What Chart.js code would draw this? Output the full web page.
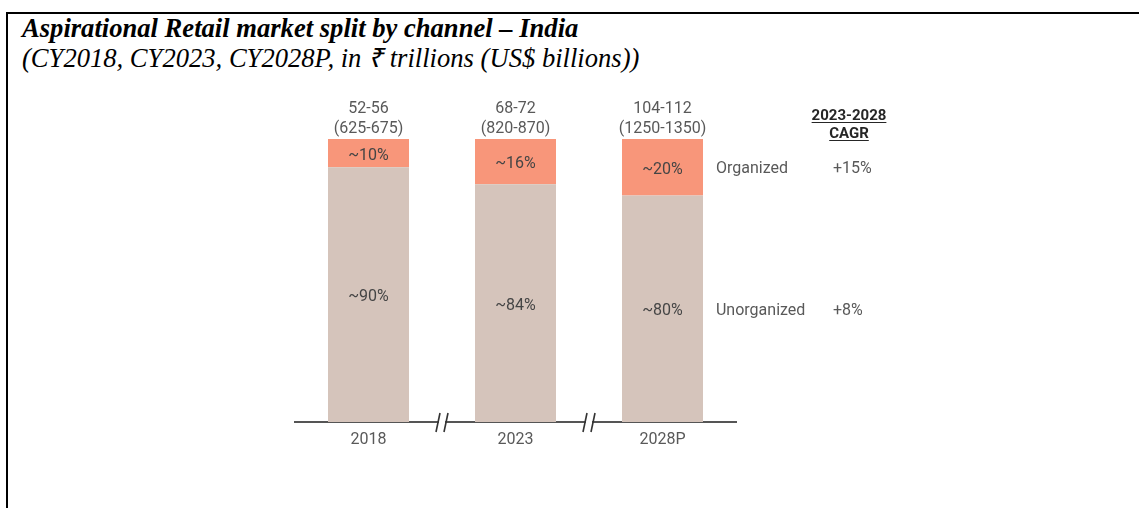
<!DOCTYPE html>
<html>
<head>
<meta charset="utf-8">
<script src="https://cdn.jsdelivr.net/npm/chart.js@4"></script>
<style>
html,body{margin:0;padding:0;width:1139px;height:508px;overflow:hidden;background:#fff;}
#frame{position:absolute;left:6px;top:12px;width:1200px;height:600px;border-top:2px solid #000;border-left:2px solid #000;}
.t{position:absolute;left:22px;font-family:"Liberation Serif","Times New Roman",serif;font-size:26.6px;line-height:29px;color:#000;white-space:nowrap;font-style:italic;}
#title{top:14px;font-weight:bold;}
#sub{top:44px;}
#wrap{position:absolute;left:0;top:0;width:1139px;height:508px;}
</style>
</head>
<body>
<div id="frame"></div>
<div class="t" id="title">Aspirational Retail market split by channel – India</div>
<div class="t" id="sub">(CY2018, CY2023, CY2028P, in ₹ trillions (US$ billions))</div>
<div id="wrap"><canvas id="c" width="1139" height="508"></canvas></div>
<script>
const categories = ['2018', '2023', '2028P'];
const unorganizedShare = [90, 84, 80];
const organizedShare = [10, 16, 20];
const unorganizedLabels = ['~90%', '~84%', '~80%'];
const organizedLabels = ['~10%', '~16%', '~20%'];
const totalInr = ['52-56', '68-72', '104-112'];
const totalUsd = ['(625-675)', '(820-870)', '(1250-1350)'];
const seriesNames = ['Unorganized', 'Organized'];
const cagrValues = ['+8%', '+15%'];
const cagrHeader = ['2023-2028', 'CAGR'];

const FONT = 'Roboto';
const GREY = '#595959';
const INNER = '#454545';

const annotations = {
  id: 'annotations',
  afterDatasetsDraw(chart) {
    const ctx = chart.ctx;
    const metas = [chart.getDatasetMeta(0), chart.getDatasetMeta(1)];
    const inner = [unorganizedLabels, organizedLabels];
    ctx.save();
    ctx.textAlign = 'center';
    ctx.textBaseline = 'alphabetic';
    ctx.font = '16px ' + FONT;
    // labels inside bars
    metas.forEach((meta, d) => {
      meta.data.forEach((el, i) => {
        ctx.fillStyle = INNER;
        ctx.fillText(inner[d][i], el.x, (el.y + el.base) / 2 + 6.5);
      });
    });
    // totals above bars
    metas[1].data.forEach((el, i) => {
      ctx.fillStyle = GREY;
      ctx.fillText(totalInr[i], el.x, el.y - 26);
      ctx.fillText(totalUsd[i], el.x, el.y - 6);
    });
    // series names and CAGR at right of last bar
    const last = categories.length - 1;
    metas.forEach((meta, d) => {
      const el = meta.data[last];
      const right = el.x + el.width / 2;
      const cy = (el.y + el.base) / 2 + 6;
      ctx.textAlign = 'left';
      ctx.fillStyle = GREY;
      ctx.fillText(seriesNames[d], right + 13, cy);
      ctx.fillText(cagrValues[d], right + 130, cy);
    });
    // CAGR header
    const elTop = metas[1].data[last];
    const hx = elTop.x + elTop.width / 2 + 146;
    ctx.textAlign = 'center';
    ctx.font = 'bold 15px ' + FONT;
    ctx.fillStyle = '#262626';
    ctx.strokeStyle = '#262626';
    ctx.lineWidth = 1.2;
    [elTop.y - 19, elTop.y - 1].forEach((y, k) => {
      ctx.fillText(cagrHeader[k], hx, y);
      const w = ctx.measureText(cagrHeader[k]).width;
      ctx.beginPath();
      ctx.moveTo(hx - w / 2, y + 2.5);
      ctx.lineTo(hx + w / 2, y + 2.5);
      ctx.stroke();
    });
    ctx.restore();
  },
  afterDraw(chart) {
    const ctx = chart.ctx;
    const xs = chart.scales.x;
    const y = xs.top;
    ctx.save();
    for (let i = 0; i < categories.length - 1; i++) {
      const x = (xs.getPixelForValue(i) + xs.getPixelForValue(i + 1)) / 2;
      ctx.fillStyle = '#fff';
      ctx.fillRect(x - 3, y - 2, 6, 4);
      ctx.strokeStyle = '#333';
      ctx.lineWidth = 1.6;
      [-4, 4].forEach(o => {
        ctx.beginPath();
        ctx.moveTo(x + o - 2, y + 10);
        ctx.lineTo(x + o + 2, y - 9);
        ctx.stroke();
      });
    }
    ctx.restore();
  }
};

new Chart(document.getElementById('c'), {
  type: 'bar',
  data: {
    labels: categories,
    datasets: [
      { label: seriesNames[0], data: unorganizedShare, backgroundColor: '#D5C4BB', borderWidth: 0 },
      { label: seriesNames[1], data: organizedShare, backgroundColor: '#F8967A', borderWidth: 0 }
    ]
  },
  options: {
    responsive: false,
    devicePixelRatio: 1,
    animation: false,
    layout: { padding: { left: 295, right: 403, top: 139, bottom: 56 } },
    plugins: { legend: { display: false }, tooltip: { enabled: false }, title: { display: false } },
    datasets: { bar: { categoryPercentage: 1, barPercentage: 0.551 } },
    scales: {
      x: {
        stacked: true,
        grid: { display: false, drawTicks: false },
        border: { display: true, color: '#555', width: 2 },
        ticks: { color: GREY, font: { family: FONT, size: 16 }, padding: 8 },
        afterFit(scale) { scale.height = 30; }
      },
      y: {
        stacked: true,
        display: false,
        min: 0,
        max: 100
      }
    }
  },
  plugins: [annotations]
});
</script>
</body>
</html>
